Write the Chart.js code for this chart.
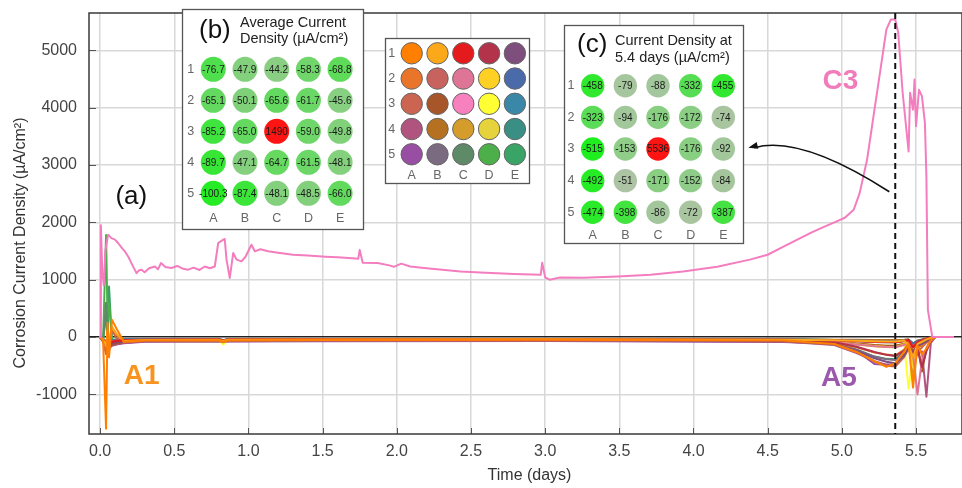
<!DOCTYPE html>
<html><head><meta charset="utf-8">
<script src="https://cdn.jsdelivr.net/npm/chart.js@4.4.1/dist/chart.umd.min.js"></script>
<style>html,body{margin:0;padding:0;background:#fff}#wrap{width:962px;height:488px}</style>
</head><body><div id="wrap"><canvas id="c" width="962" height="488"></canvas></div>
<script>
// ---------- DATA ----------
const rowLabels = ['1','2','3','4','5'];
const colLabels = ['A','B','C','D','E'];
const xTickValues = [0,0.5,1,1.5,2,2.5,3,3.5,4,4.5,5,5.5];
const xTickLabels = ['0.0','0.5','1.0','1.5','2.0','2.5','3.0','3.5','4.0','4.5','5.0','5.5'];
const yTickValues = [-1000,0,1000,2000,3000,4000,5000];
const yTickLabels = ['-1000','0','1000','2000','3000','4000','5000'];

const avgDensity = [
  [-76.7,-47.9,-44.2,-58.3,-68.8],
  [-65.1,-50.1,-65.6,-61.7,-45.6],
  [-85.2,-65.0,1490,-59.0,-49.8],
  [-89.7,-47.1,-64.7,-61.5,-48.1],
  [-100.3,-87.4,-48.1,-48.5,-66.0]
];
const density54 = [
  [-458,-79,-88,-332,-455],
  [-323,-94,-176,-172,-74],
  [-515,-153,5536,-176,-92],
  [-492,-51,-171,-152,-84],
  [-474,-398,-86,-72,-387]
];
const wellColors = [
  ['#FF7F00','#FBA81B','#E41A1C','#B2334A','#7E4E7D'],
  ['#E8752A','#C8625E','#DE7496','#FDD023','#4A6AAA'],
  ['#CB6450','#A65628','#F781BF','#FFFF33','#3A87A8'],
  ['#B0547F','#B5711F','#D39C2B','#E6D23A','#3A8F84'],
  ['#984EA3','#7A6B80','#5E8A68','#4DAF4A','#3AA366']
];

// C3 (the corroding well)
const c3Time = [0,0.005,0.015,0.025,0.035,0.054,0.076,0.1,0.121,0.145,0.166,0.19,0.211,0.245,0.26,0.279,0.3,0.33,0.369,0.39,0.41,0.44,0.48,0.52,0.56,0.593,0.63,0.67,0.706,0.74,0.773,0.796,0.82,0.84,0.852,0.874,0.897,0.92,0.953,0.98,1.02,1.043,1.08,1.133,1.2,1.3,1.4,1.52,1.6,1.7,1.74,1.75,1.77,1.87,1.95,1.98,2.03,2.09,2.2,2.43,2.6,2.79,2.97,2.98,3.0,3.03,3.1,3.26,3.49,3.71,3.93,4.16,4.38,4.5,4.61,4.79,4.86,4.95,5.02,5.08,5.12,5.17,5.21,5.26,5.3,5.33,5.36,5.38,5.41,5.45,5.46,5.48,5.49,5.5,5.52,5.54,5.56,5.57,5.58,5.61,5.75];
const c3Vals = [0,1950,1100,900,1500,1785,1725,1700,1640,1560,1495,1400,1290,1115,1160,1175,1130,1200,1230,1180,1290,1220,1205,1240,1190,1175,1210,1170,1230,1200,1230,1640,1680,1710,1350,1030,1465,1350,1320,1400,1610,1495,1530,1495,1470,1435,1420,1400,1390,1375,1365,1520,1295,1290,1250,1225,1280,1230,1200,1145,1120,1100,1085,1295,1040,1000,1040,1035,1057,1085,1145,1225,1350,1435,1580,1815,1900,2000,2080,2220,2510,3090,3790,4660,5360,5535,5535,5310,4260,3235,4260,3965,4490,3675,4310,4200,3735,2800,475,0,0];

// other 24 wells, shared time base
const wellTime = [0,0.02,0.04,0.05,0.06,0.08,0.11,0.16,0.3,0.8,0.83,0.86,1.5,3.0,4.6,4.95,5.1,5.22,5.3,5.36,5.42,5.45,5.48,5.51,5.54,5.57,5.6,5.63,5.75];
const A1 = [0,-60,-1600,250,-350,300,150,-80,-60,-55,-85,-60,-50,-48,-60,-120,-260,-420,-520,-458,-260,-120,-880,-150,-300,-200,-60,0,0];
const B1 = [0,-40,-150,120,-120,180,60,-70,-50,-45,-70,-48,-42,-40,-45,-55,-65,-75,-78,-79,-60,-150,-350,-120,-80,-40,-15,0,0];
const C1 = [0,-50,-90,-70,-100,-80,-65,-55,-45,-42,-60,-44,-40,-38,-45,-55,-70,-82,-86,-88,-70,-50,-180,-90,-60,-30,-10,0,0];
const D1 = [0,-60,-110,-80,-120,-90,-75,-60,-50,-48,-70,-50,-46,-44,-55,-90,-170,-260,-310,-332,-240,-140,-300,-200,-520,-250,-60,0,0];
const E1 = [0,-70,-120,-90,-140,-110,-90,-75,-62,-58,-80,-60,-55,-52,-65,-120,-240,-370,-430,-455,-320,-180,-260,-150,-120,-80,-20,0,0];
const A2 = [0,-50,-200,100,-150,150,40,-80,-58,-52,-75,-55,-50,-48,-58,-100,-180,-270,-305,-323,-220,-100,-350,-180,-150,-90,-30,0,0];
const B2 = [0,-45,-90,-60,-95,-75,-60,-50,-45,-42,-65,-45,-40,-40,-46,-58,-75,-88,-92,-94,-70,-60,-160,-90,-70,-40,-10,0,0];
const C2 = [0,-60,-110,-80,-120,-90,-75,-65,-58,-55,-80,-58,-54,-52,-60,-90,-130,-160,-172,-176,-140,-100,-300,-1000,-400,-200,-50,0,0];
const D2 = [0,-50,-90,-70,-100,-80,-65,-58,-52,-50,-75,-52,-48,-46,-55,-85,-125,-155,-168,-172,-130,-90,-500,-150,-100,-50,-15,0,0];
const E2 = [0,-40,-70,-55,-80,-60,-50,-44,-40,-38,-55,-40,-37,-36,-42,-52,-62,-70,-73,-74,-60,-45,-110,-70,-50,-30,-10,0,0];
const A3 = [0,-70,-300,80,-250,120,-20,-95,-72,-68,-90,-70,-64,-62,-75,-130,-260,-430,-500,-515,-350,-200,-420,-250,-180,-100,-30,0,0];
const B3 = [0,-60,-180,-90,-160,-130,-110,-90,-60,-55,-80,-58,-52,-50,-58,-80,-110,-140,-150,-153,-120,-90,-250,-130,-600,-200,-40,0,0];
const D3 = [0,-50,-90,-70,-100,-80,-65,-55,-48,-46,-130,-48,-45,-44,-52,-85,-130,-160,-172,-176,-120,-900,-300,-150,-100,-50,-15,0,0];
const E3 = [0,-45,-80,-60,-85,-70,-58,-48,-42,-40,-58,-42,-40,-38,-45,-55,-70,-85,-90,-92,-70,-55,-130,-80,-60,-30,-10,0,0];
const A4 = [0,-70,-250,-100,-200,-150,-130,-100,-75,-70,-95,-72,-66,-64,-78,-140,-280,-420,-480,-492,-330,-180,-400,-300,-250,-1040,-100,0,0];
const B4 = [0,-40,-80,-60,-90,-70,-55,-45,-40,-38,-55,-40,-37,-36,-40,-45,-48,-50,-51,-51,-45,-40,-120,-60,-40,-20,-8,0,0];
const C4 = [0,-50,-100,-70,-110,-85,-70,-60,-52,-50,-75,-52,-48,-47,-55,-85,-125,-155,-168,-171,-130,-90,-700,-200,-100,-50,-15,0,0];
const D4 = [0,-50,-90,-70,-100,-80,-65,-56,-50,-48,-70,-50,-46,-45,-52,-78,-115,-140,-150,-152,-110,-80,-250,-120,-80,-40,-10,0,0];
const E4 = [0,-40,-75,-55,-85,-65,-55,-46,-40,-38,-55,-40,-38,-37,-42,-52,-65,-78,-82,-84,-65,-50,-120,-70,-50,-30,-10,0,0];
const A5 = [0,-80,-180,-120,-160,-140,-125,-110,-80,-75,-95,-78,-72,-70,-85,-110,-240,-470,-482,-474,-300,-160,-260,-150,-120,-70,-20,0,0];
const B5 = [0,-70,-160,-110,-150,-130,-115,-100,-72,-68,-88,-70,-65,-63,-75,-120,-220,-340,-385,-398,-280,-150,-300,-180,-140,-80,-25,0,0];
const C5 = [0,-50,600,200,-80,-60,-55,-48,-42,-40,-58,-42,-40,-39,-46,-55,-68,-80,-85,-86,-70,-50,-140,-80,-60,-30,-10,0,0];
const D5 = [0,-40,1780,300,600,-40,-45,-40,-38,-36,-52,-38,-36,-35,-40,-50,-60,-68,-71,-72,-60,-45,-110,-70,-50,-30,-10,0,0];
const E5 = [0,-60,400,-50,880,-70,-80,-60,-55,-50,-70,-52,-48,-47,-58,-110,-220,-340,-380,-387,-260,-140,-280,-160,-120,-70,-20,0,0];

const wellSeries = {A1,B1,C1,D1,E1,A2,B2,C2,D2,E2,A3,B3,D3,E3,A4,B4,C4,D4,E4,A5,B5,C5,D5,E5};

// annotations (data coordinates)
const markerTime = 5.36;
const textLabels = [
  {text:'(a)', x:0.21, y:2450, color:'#111', bold:false, size:26},
  {text:'A1', x:0.28, y:-690, color:'#F7931E', bold:true, size:28},
  {text:'A5', x:4.98, y:-727, color:'#9A59AD', bold:true, size:28},
  {text:'C3', x:4.99, y:4453, color:'#F07CBB', bold:true, size:28}
];
const arrowPath = {from:[5.32,2534], ctrl:[4.72,3529], to:[4.37,3302]};

// ---------- CHART ----------
const FONT = '"Liberation Sans", Arial, Helvetica, sans-serif';
const datasets = [];
datasets.push({
  label:'C3', order:0,
  data: c3Time.map((t,i)=>({x:t, y:c3Vals[i]})),
  borderColor:'#F37DBE', borderWidth:2, pointRadius:0, tension:0
});
Object.keys(wellSeries).forEach(name=>{
  const col = colLabels.indexOf(name[0]);
  const row = rowLabels.indexOf(name[1]);
  const vals = wellSeries[name];
  datasets.push({
    label:name, order:1,
    data: wellTime.map((t,i)=>({x:t, y:vals[i]})),
    borderColor: wellColors[row][col], borderWidth:2, pointRadius:0, tension:0
  });
});

function shade(v, lo, hi){
  if (v > 0) return '#FF1414';
  const t = Math.min(1, Math.max(0, (Math.abs(v)-lo)/(hi-lo)));
  const a=[172,196,164], b=[16,242,16];
  const c = a.map((av,i)=>Math.round(av+(b[i]-av)*t));
  return `rgb(${c[0]},${c[1]},${c[2]})`;
}

function drawGridInset(ctx, o){
  ctx.save();
  ctx.fillStyle='#fff';
  ctx.fillRect(o.x,o.y,o.w,o.h);
  ctx.strokeStyle='#555'; ctx.lineWidth=1.3;
  ctx.strokeRect(o.x+0.5,o.y+0.5,o.w,o.h);
  if (o.tag){
    ctx.fillStyle='#111'; ctx.font=`26px ${FONT}`; ctx.textAlign='left'; ctx.textBaseline='middle';
    ctx.fillText(o.tag, o.tagX, o.tagY);
    ctx.font=`14.5px ${FONT}`; ctx.fillStyle='#222';
    ctx.fillText(o.title[0], o.titleX, o.titleY[0]);
    ctx.fillText(o.title[1], o.titleX, o.titleY[1]);
  }
  ctx.font=`12.5px ${FONT}`; ctx.fillStyle='#666'; ctx.textAlign='center'; ctx.textBaseline='middle';
  for (let r=0;r<5;r++) ctx.fillText(rowLabels[r], o.rowLabX, o.y0 + r*o.dy);
  for (let c=0;c<5;c++) ctx.fillText(colLabels[c], o.x0 + c*o.dx, o.colLabY);
  for (let r=0;r<5;r++) for (let c=0;c<5;c++){
    const cx=o.x0+c*o.dx, cy=o.y0+r*o.dy;
    ctx.beginPath(); ctx.arc(cx,cy,o.rad,0,Math.PI*2);
    ctx.fillStyle = o.colors ? o.colors[r][c] : shade(o.values[r][c], o.lo, o.hi);
    ctx.fill();
    if (o.outline){ ctx.strokeStyle='#666'; ctx.lineWidth=1; ctx.stroke(); }
    if (o.values){
      ctx.fillStyle='#1a1a1a'; ctx.font=`10px ${FONT}`;
      const v=o.values[r][c];
      ctx.fillText(o.fmt(v), cx, cy+0.5);
    }
  }
  ctx.restore();
}

const overlay = {
  id:'overlay',
  afterDraw(chart){
    const ctx=chart.ctx, a=chart.chartArea, xs=chart.scales.x, ys=chart.scales.y;
    ctx.save();
    // inner tick marks
    ctx.strokeStyle='#555'; ctx.lineWidth=1;
    xs.ticks.forEach(t=>{const p=Math.round(xs.getPixelForValue(t.value))+0.5; ctx.beginPath(); ctx.moveTo(p,a.bottom); ctx.lineTo(p,a.bottom-6); ctx.stroke();});
    ys.ticks.forEach(t=>{const p=Math.round(ys.getPixelForValue(t.value))+0.5; ctx.beginPath(); ctx.moveTo(a.left,p); ctx.lineTo(a.left+7,p); ctx.stroke();});
    // frame
    ctx.strokeStyle='#3a3a3a'; ctx.lineWidth=1.5;
    ctx.strokeRect(a.left, a.top, a.right-a.left, a.bottom-a.top);
    // dashed marker
    const mx = xs.getPixelForValue(markerTime);
    ctx.strokeStyle='#111'; ctx.lineWidth=2; ctx.setLineDash([6,4]);
    ctx.beginPath(); ctx.moveTo(mx,a.top); ctx.lineTo(mx,a.bottom); ctx.stroke();
    ctx.setLineDash([]);
    // text labels
    textLabels.forEach(l=>{
      ctx.font=`${l.bold?'bold ':''}${l.size}px ${FONT}`; ctx.fillStyle=l.color;
      ctx.textAlign='center'; ctx.textBaseline='middle';
      ctx.fillText(l.text, xs.getPixelForValue(l.x), ys.getPixelForValue(l.y));
    });
    // axis titles
    ctx.fillStyle='#333'; ctx.font=`16px ${FONT}`; ctx.textAlign='center'; ctx.textBaseline='middle';
    ctx.fillText('Time (days)', (a.left+a.right)/2+4, 476);
    ctx.save(); ctx.translate(21, 243); ctx.rotate(-Math.PI/2);
    ctx.fillText('Corrosion Current Density (µA/cm²)', 0, 0); ctx.restore();
    // insets
    drawGridInset(ctx,{x:182,y:9,w:181,h:220,tag:'(b)',tagX:199,tagY:31,title:['Average Current','Density (µA/cm²)'],titleX:240,titleY:[22.5,38.5],
      rowLabX:190.7,colLabY:219,x0:213.3,dx:31.7,y0:69.3,dy:31,rad:12.5,values:avgDensity,lo:25,hi:112,fmt:v=>v.toFixed(Math.abs(v)>=1000?0:1)});
    drawGridInset(ctx,{x:385,y:38,w:144,h:145,rowLabX:391.7,colLabY:175.7,x0:411.7,dx:25.8,y0:53.3,dy:25.25,rad:10.7,colors:wellColors,outline:true});
    drawGridInset(ctx,{x:564,y:25,w:179,h:218,tag:'(c)',tagX:577,tagY:45,title:['Current Density at','5.4 days (µA/cm²)'],titleX:615,titleY:[41,57.5],
      rowLabX:571,colLabY:236,x0:592.7,dx:32.65,y0:85.7,dy:31.65,rad:11.7,values:density54,lo:60,hi:560,fmt:v=>String(v)});
    // arrow
    const P=(p)=>[xs.getPixelForValue(p[0]), ys.getPixelForValue(p[1])];
    const f=P(arrowPath.from), c=P(arrowPath.ctrl), t=P(arrowPath.to);
    ctx.strokeStyle='#111'; ctx.lineWidth=1.6;
    ctx.beginPath(); ctx.moveTo(f[0],f[1]); ctx.quadraticCurveTo(c[0],c[1],t[0]+6,t[1]); ctx.stroke();
    const ang=Math.atan2(t[1]-c[1], t[0]-c[0]);
    ctx.fillStyle='#111'; ctx.beginPath();
    ctx.moveTo(t[0],t[1]);
    ctx.lineTo(t[0]-10*Math.cos(ang-0.35), t[1]-10*Math.sin(ang-0.35));
    ctx.lineTo(t[0]-10*Math.cos(ang+0.35), t[1]-10*Math.sin(ang+0.35));
    ctx.closePath(); ctx.fill();
    ctx.restore();
  }
};

new Chart(document.getElementById('c'), {
  type:'line',
  data:{datasets},
  plugins:[overlay],
  options:{
    responsive:false, animation:false, devicePixelRatio:1,
    layout:{padding:{top:13,right:0,left:0,bottom:0}},
    plugins:{legend:{display:false}, tooltip:{enabled:false}},
    elements:{line:{borderJoinStyle:'round', borderCapStyle:'round'}},
    scales:{
      x:{type:'linear', min:-0.075, max:5.81,
        afterBuildTicks:(s)=>{s.ticks = xTickValues.map(v=>({value:v}));},
        ticks:{maxRotation:0, autoSkip:false, padding:8,
          color:'#444', font:{family:FONT, size:16},
          callback:(v,i)=>xTickLabels[i]},
        grid:{color:'#d8d8d8', lineWidth:1.5, drawTicks:false},
        border:{display:false},
        afterFit:(s)=>{s.height=54; s.paddingLeft=0; s.paddingRight=0;}
      },
      y:{type:'linear', min:-1690, max:5650,
        afterBuildTicks:(s)=>{s.ticks = yTickValues.map(v=>({value:v}));},
        ticks:{autoSkip:false, padding:12, color:'#444', font:{family:FONT, size:16},
          callback:(v,i)=>yTickLabels[i]},
        grid:{color:(c)=> c.tick && c.tick.value===0 ? '#222' : '#d8d8d8', lineWidth:(c)=> c.tick && c.tick.value===0 ? 1.6 : 1.5, drawTicks:false},
        border:{display:false},
        afterFit:(s)=>{s.width=89; s.paddingTop=0; s.paddingBottom=0;}
      }
    }
  }
});
</script>
</body></html>
